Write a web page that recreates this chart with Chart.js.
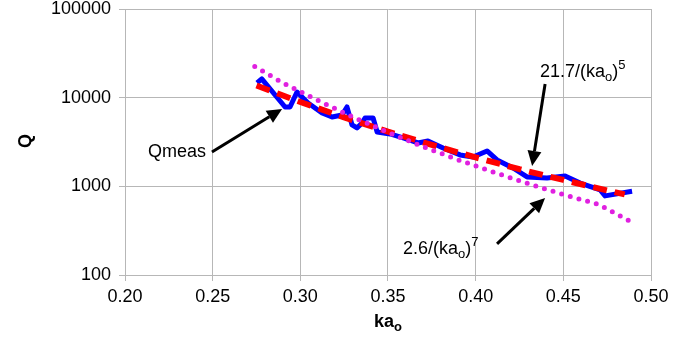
<!DOCTYPE html>
<html lang="en">
<head>
<meta charset="UTF-8">
<title>Q versus ka</title>
<script src="https://cdn.jsdelivr.net/npm/chart.js"></script>
<style>
  html, body { margin: 0; padding: 0; background: #fff; }
  #wrap { width: 699px; height: 345px; }
</style>
</head>
<body>
<div id="wrap"><canvas id="qChart"></canvas></div>
<script>
// measured Q
const qmeasKa = [0.2753, 0.278, 0.2913, 0.2941, 0.2981, 0.2998, 0.3044, 0.3124, 0.3181, 0.3238, 0.3266, 0.3295, 0.3323, 0.3352, 0.3369, 0.3415, 0.3438, 0.3512, 0.3586, 0.3671, 0.3728, 0.3814, 0.3911, 0.3985, 0.4065, 0.4122, 0.4213, 0.4293, 0.4407, 0.451, 0.4596, 0.471, 0.4738, 0.4892];
const qmeasQ  = [14650, 16250, 7850, 7850, 11590, 10720, 8710, 6720, 6050, 6380, 7850, 4920, 4550, 5190, 5900, 5900, 4100, 3900, 3510, 3085, 3250, 2710, 2260, 2145, 2505, 1985, 1610, 1275, 1245, 1310, 1090, 910, 780, 880];

// 21.7/(ka)^5 curve
const fit5Ka = [0.275, 0.30, 0.325, 0.35, 0.375, 0.40, 0.425, 0.45, 0.475, 0.485];
const fit5Q  = [13700, 8930, 5990, 4130, 2930, 2120, 1560, 1180, 900, 810];

// 2.6/(ka)^7 curve
const fit7Ka = [0.274, 0.29, 0.31, 0.33, 0.35, 0.37, 0.39, 0.41, 0.43, 0.45, 0.47, 0.49];
const fit7Q  = [22400, 14700, 9300, 6050, 4060, 2800, 1990, 1450, 1070, 810, 625, 385];

const xTicks = [0.20, 0.25, 0.30, 0.35, 0.40, 0.45, 0.50];
const yTicks = [100, 1000, 10000, 100000];

const toPoints = (xs, ys) => xs.map((x, i) => ({ x: x, y: ys[i] }));

const FONT = '"Liberation Sans", Arial, sans-serif';
const GRID = '#b7b7b7';

// callouts, anchored in data coordinates
const callouts = [
  { parts: [['Qmeas', 'n']], tx: 0.2297, ty: 2443, align: 'center',
    from: [0.2496, 2443], to: [0.2896, 7470] },
  { parts: [['21.7/(ka', 'n'], ['o', 'sub'], [')', 'n'], ['5', 'sup']], tx: 0.4367, ty: 19500, align: 'left',
    from: [0.4396, 14260], to: [0.4322, 1698] },
  { parts: [['2.6/(ka', 'n'], ['o', 'sub'], [')', 'n'], ['7', 'sup']], tx: 0.3586, ty: 197, align: 'left',
    from: [0.4122, 224], to: [0.4396, 740] }
];

function drawParts(ctx, parts, x, y, align, size, bold) {
  const w = bold ? 'bold ' : '';
  let total = 0;
  parts.forEach(p => {
    ctx.font = w + (p[1] === 'n' ? size : Math.round(size * 0.72)) + 'px ' + FONT;
    total += ctx.measureText(p[0]).width;
  });
  let cx = align === 'center' ? x - total / 2 : x;
  ctx.textBaseline = 'middle';
  ctx.textAlign = 'left';
  parts.forEach(p => {
    let dy = 0;
    if (p[1] === 'sub') dy = size * 0.28;
    if (p[1] === 'sup') dy = -size * 0.38;
    ctx.font = w + (p[1] === 'n' ? size : Math.round(size * 0.72)) + 'px ' + FONT;
    ctx.fillText(p[0], cx, y + dy);
    cx += ctx.measureText(p[0]).width;
  });
}

function arrow(ctx, x1, y1, x2, y2) {
  const ang = Math.atan2(y2 - y1, x2 - x1);
  const len = 15, half = 7;
  const bx = x2 - len * Math.cos(ang), by = y2 - len * Math.sin(ang);
  ctx.strokeStyle = '#000';
  ctx.lineWidth = 3;
  ctx.beginPath();
  ctx.moveTo(x1, y1);
  ctx.lineTo(bx, by);
  ctx.stroke();
  ctx.fillStyle = '#000';
  ctx.beginPath();
  ctx.moveTo(x2, y2);
  ctx.lineTo(bx + half * Math.sin(ang), by - half * Math.cos(ang));
  ctx.lineTo(bx - half * Math.sin(ang), by + half * Math.cos(ang));
  ctx.closePath();
  ctx.fill();
}

const annotate = {
  id: 'annotate',
  afterDraw(chart) {
    const ctx = chart.ctx;
    const xs = chart.scales.x, ys = chart.scales.y;
    const area = chart.chartArea;
    ctx.save();
    callouts.forEach(c => {
      ctx.fillStyle = '#000';
      drawParts(ctx, c.parts, xs.getPixelForValue(c.tx), ys.getPixelForValue(c.ty), c.align, 18, false);
      arrow(ctx, xs.getPixelForValue(c.from[0]), ys.getPixelForValue(c.from[1]),
                 xs.getPixelForValue(c.to[0]), ys.getPixelForValue(c.to[1]));
    });
    // axis titles
    ctx.fillStyle = '#000';
    drawParts(ctx, [['ka', 'n'], ['o', 'sub']], (area.left + area.right) / 2, 322, 'center', 18, true);
    ctx.translate(26, 141);
    ctx.rotate(-Math.PI / 2);
    drawParts(ctx, [['Q', 'n']], 0, 0, 'center', 18, true);
    ctx.restore();
  }
};

new Chart(document.getElementById('qChart'), {
  type: 'scatter',
  data: {
    datasets: [
      {
        label: '2.6/(ka)^7',
        data: toPoints(fit7Ka, fit7Q),
        showLine: true,
        borderColor: '#e020e0',
        borderWidth: 5,
        borderDash: [0, 9],
        borderCapStyle: 'round',
        pointRadius: 0,
        order: 1
      },
      {
        label: '21.7/(ka)^5',
        data: toPoints(fit5Ka, fit5Q),
        showLine: true,
        borderColor: '#ff0000',
        borderWidth: 6,
        borderDash: [14, 8],
        borderCapStyle: 'butt',
        pointRadius: 0,
        order: 2
      },
      {
        label: 'Qmeas',
        data: toPoints(qmeasKa, qmeasQ),
        showLine: true,
        borderColor: '#0000ff',
        borderWidth: 5,
        borderJoinStyle: 'round',
        pointRadius: 0,
        order: 3
      }
    ]
  },
  options: {
    responsive: true,
    maintainAspectRatio: false,
    animation: false,
    layout: { padding: { top: 0, right: 48, left: 0, bottom: 0 } },
    plugins: {
      legend: { display: false },
      tooltip: { enabled: false }
    },
    scales: {
      x: {
        type: 'linear',
        min: 0.2,
        max: 0.5,
        afterBuildTicks: s => { s.ticks = xTicks.map(v => ({ value: v })); },
        afterFit: s => { s.height = 70; },
        ticks: {
          color: '#000',
          font: { family: FONT, size: 18 },
          padding: 5,
          maxRotation: 0,
          callback: v => v.toFixed(2)
        },
        grid: { color: GRID, lineWidth: 1, tickLength: 6, tickColor: GRID },
        border: { color: GRID }
      },
      y: {
        type: 'logarithmic',
        min: 100,
        max: 100000,
        afterBuildTicks: s => { s.ticks = yTicks.map(v => ({ value: v })); },
        afterFit: s => { s.width = 125; s.paddingTop = 9; s.paddingBottom = 0; },
        ticks: {
          color: '#000',
          font: { family: FONT, size: 18 },
          padding: 8,
          callback: v => String(v)
        },
        grid: { color: GRID, lineWidth: 1, tickLength: 6, tickColor: GRID },
        border: { color: GRID }
      }
    }
  },
  plugins: [annotate]
});
</script>
</body>
</html>
